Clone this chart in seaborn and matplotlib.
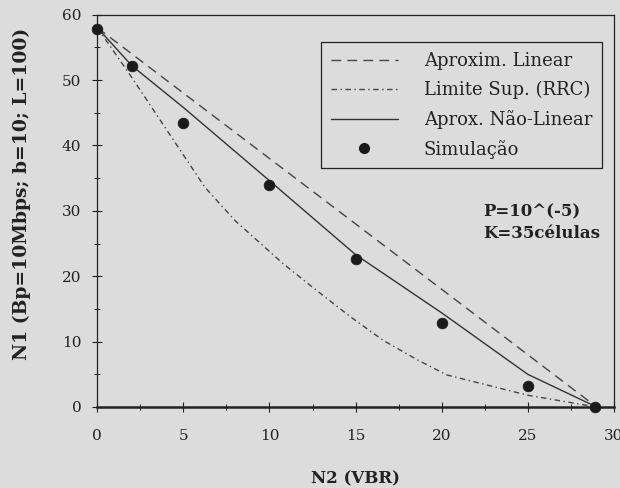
import matplotlib
matplotlib.use("Agg")
import matplotlib.pyplot as plt
import seaborn as sns
import numpy as np
import pandas as pd
from matplotlib.ticker import MultipleLocator
from matplotlib.lines import Line2D

# ---- data ----
x_lin = [0, 29]
y_lin = [58, 0]

x_rrc = [0, 2, 4.3, 6.25, 8, 10.8, 12.7, 14.7, 16.6, 18.6, 20.3, 25, 29]
y_rrc = [58, 50.4, 41.3, 33.6, 28.5, 21.9, 17.9, 13.8, 10.2, 7.2, 4.9, 1.8, 0]

x_nl = [0, 2, 5, 10, 15, 20, 25, 29]
y_nl = [58, 52.2, 45.8, 34.6, 23.3, 14.4, 5.0, 0]

x_sim = [0, 2, 5, 10, 15, 20, 25, 28.9]
y_sim = [57.8, 52.2, 43.5, 33.9, 22.6, 12.8, 3.2, 0]

labels = ["Aproxim. Linear", "Limite Sup. (RRC)", "Aprox. Não-Linear", "Simulação"]
x_ticks = [0, 5, 10, 15, 20, 25, 30]
y_ticks = [0, 10, 20, 30, 40, 50, 60]

BG = "#dcdcdc"
INK = "#222222"
LS_LIN = (0, (7, 4.5))
LS_RRC = (0, (4, 2.5, 1, 2.5))

sns.set_style("ticks")
plt.rcParams["font.family"] = ["DejaVu Serif"]

fig = plt.figure(figsize=(6.2, 4.88), dpi=100, facecolor=BG)
ax = fig.add_axes([0.157, 0.166, 0.833, 0.804])
ax.set_facecolor(BG)

sns.lineplot(x=x_lin, y=y_lin, ax=ax, color="#444444", linewidth=1.0,
             linestyle=LS_LIN, sort=False)
sns.lineplot(x=x_rrc, y=y_rrc, ax=ax, color="#444444", linewidth=1.0,
             linestyle=LS_RRC, sort=False)
sns.lineplot(x=x_nl, y=y_nl, ax=ax, color="#333333", linewidth=1.0,
             linestyle="-", sort=False)
sns.scatterplot(x=x_sim, y=y_sim, ax=ax, color="#1a1a1a", s=60,
                edgecolor="#1a1a1a", linewidth=0.5, clip_on=False, zorder=5)

ax.set_xlim(0, 30)
ax.set_ylim(0, 60)
ax.set_xticks(x_ticks)
ax.set_yticks(y_ticks)
ax.xaxis.set_minor_locator(MultipleLocator(2.5))
ax.yaxis.set_minor_locator(MultipleLocator(5))
ax.tick_params(which="major", direction="inout", length=7, width=0.8,
               colors=INK, labelsize=11, pad=8)
ax.tick_params(which="minor", direction="inout", length=5, width=0.7, colors=INK)
ax.tick_params(axis="x", which="major", pad=12)

for side in ["top", "right", "left"]:
    ax.spines[side].set_linewidth(0.9)
    ax.spines[side].set_color(INK)
ax.spines["bottom"].set_linewidth(1.8)
ax.spines["bottom"].set_color(INK)

ax.set_xlabel("N2 (VBR)", fontsize=12, fontweight="bold", color=INK, labelpad=20)
ax.set_ylabel("N1 (Bp=10Mbps; b=10; L=100)", fontsize=13.5, fontweight="bold",
              color=INK)
ax.yaxis.set_label_coords(-0.128, 0.543)

ax.text(22.4, 28.2, "P=10^(-5)\nK=35células", fontsize=12, fontweight="bold",
        color=INK, ha="left", va="center", linespacing=1.3)

handles = [
    Line2D([], [], color="#444444", lw=1.0, linestyle=LS_LIN),
    Line2D([], [], color="#444444", lw=1.0, linestyle=LS_RRC),
    Line2D([], [], color="#333333", lw=1.0, linestyle="-"),
    Line2D([], [], color="#1a1a1a", marker="o", markersize=7, linestyle="None"),
]
leg = ax.legend(handles, labels, loc="upper right", bbox_to_anchor=(0.977, 0.929),
                borderaxespad=0, fontsize=13, frameon=True, fancybox=False,
                edgecolor=INK, facecolor=BG, framealpha=1, handlelength=3.7,
                handletextpad=1.45, labelspacing=0.6, borderpad=0.53)
leg.get_frame().set_linewidth(0.9)
for t in leg.get_texts():
    t.set_color(INK)

fig.savefig("out.png", dpi=100, facecolor=BG)
